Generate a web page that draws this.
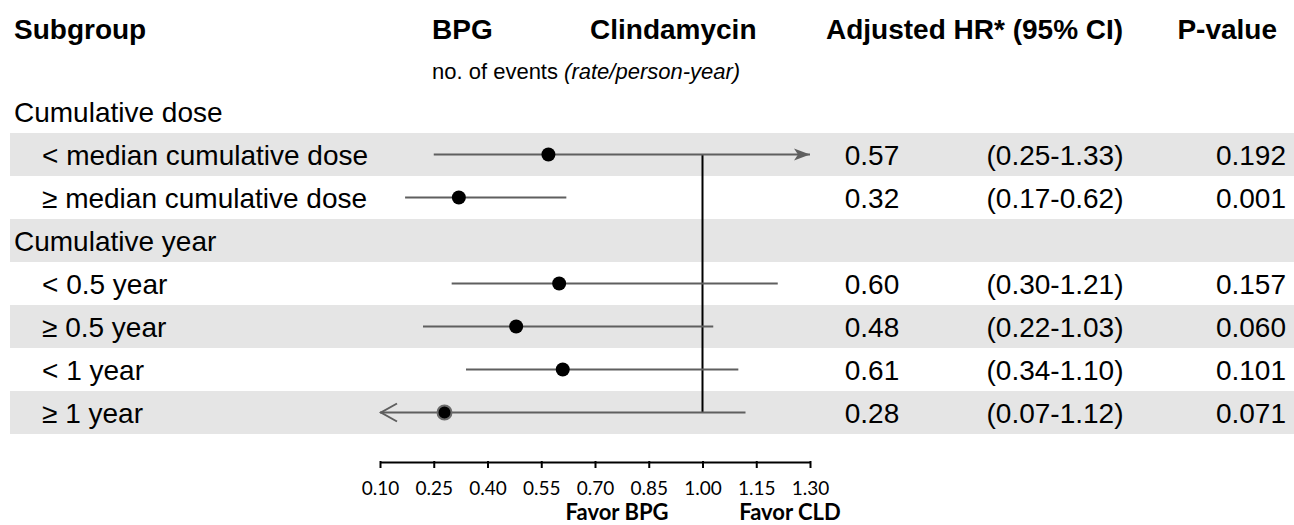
<!DOCTYPE html>
<html>
<head>
<meta charset="utf-8">
<script src="https://cdn.jsdelivr.net/npm/d3@7"></script>
<style>
  body { margin: 0; background: #fff; }
  svg { display: block; }
  .txt { font-family: "Liberation Sans", Arial, sans-serif; fill: #000; }
  .axis text { font-family: Lato, "Open Sans", sans-serif; font-size: 19px; fill: #000; }
</style>
</head>
<body>
<svg id="chart" width="1294" height="525"></svg>
<script>
// rows of the forest table
const labels = ["Cumulative dose", "< median cumulative dose", "≥ median cumulative dose",
  "Cumulative year", "< 0.5 year", "≥ 0.5 year", "< 1 year", "≥ 1 year"];
const isGroup = [true, false, false, true, false, false, false, false];
const hr = [null, 0.57, 0.32, null, 0.60, 0.48, 0.61, 0.28];
const lower = [null, 0.25, 0.17, null, 0.30, 0.22, 0.34, 0.07];
const upper = [null, 1.33, 0.62, null, 1.21, 1.03, 1.10, 1.12];
const pValues = [null, "0.192", "0.001", null, "0.157", "0.060", "0.101", "0.071"];
const headers = ["Subgroup", "BPG", "Clindamycin", "Adjusted HR* (95% CI)", "P-value"];
const tickValues = [0.10, 0.25, 0.40, 0.55, 0.70, 0.85, 1.00, 1.15, 1.30];
const favorLabels = ["Favor BPG", "Favor CLD"];

const d3s = window.d3,
  width = 1294,
  fontSize = "28px",
  lineColor = "#5f5f5f",
  bandColor = "#e5e5e5";

const svg = d3s.select("#chart");

const x = d3s.scaleLinear()
  .domain([0.10, 1.30])
  .range([380, 810]);

const y = d3s.scaleBand()
  .domain(d3s.range(labels.length))
  .range([90, 434])
  .padding(0);

const yc = i => y(i) + y.bandwidth() / 2;

// alternate grey bands
svg.append("g")
  .selectAll("rect")
  .data(d3s.range(labels.length).filter(i => i % 2 === 1))
  .join("rect")
  .attr("x", 10)
  .attr("y", i => y(i))
  .attr("width", width - 10)
  .attr("height", y.bandwidth())
  .attr("fill", bandColor);

// column headers
const headerX = [14, 432, 590, 826, 1277];
svg.append("g")
  .selectAll("text")
  .data(headers)
  .join("text")
  .attr("class", "txt")
  .attr("x", (d, i) => headerX[i])
  .attr("y", 39)
  .attr("text-anchor", (d, i) => i === 4 ? "end" : "start")
  .style("font-size", fontSize)
  .style("font-weight", "bold")
  .text(d => d);

const sub = svg.append("text")
  .attr("class", "txt")
  .attr("x", 432)
  .attr("y", 79)
  .style("font-family", "'Liberation Sans Narrow', 'Arial Narrow', sans-serif")
  .style("font-size", "22px");
sub.append("tspan").text("no. of events ");
sub.append("tspan").style("font-style", "italic").text("(rate/person-year)");

// row labels
svg.append("g")
  .selectAll("text")
  .data(labels)
  .join("text")
  .attr("class", "txt")
  .attr("x", (d, i) => isGroup[i] ? 14 : 42)
  .attr("y", (d, i) => yc(i))
  .attr("dy", "0.36em")
  .style("font-size", fontSize)
  .text(d => d);

const rows = d3s.range(labels.length).filter(i => hr[i] != null);

// reference line at HR = 1
svg.append("line")
  .attr("x1", x(1)).attr("x2", x(1))
  .attr("y1", yc(rows[0])).attr("y2", yc(rows[rows.length - 1]))
  .attr("stroke", "#000")
  .attr("stroke-width", 2);

const [xmin, xmax] = x.domain();

// confidence intervals, arrows where they run off the axis
const ci = svg.append("g");
rows.forEach(i => {
  const lo = Math.max(lower[i], xmin), hi = Math.min(upper[i], xmax);
  ci.append("line")
    .attr("x1", x(lo)).attr("x2", x(hi))
    .attr("y1", yc(i)).attr("y2", yc(i))
    .attr("stroke", lineColor)
    .attr("stroke-width", 2);
  if (upper[i] > xmax) {
    const tx = x(xmax), ty = yc(i);
    ci.append("path")
      .attr("d", `M${tx},${ty}L${tx - 16},${ty - 6}L${tx - 12},${ty}L${tx - 16},${ty + 6}Z`)
      .attr("fill", lineColor);
  }
  if (lower[i] < xmin) {
    const tx = x(xmin), ty = yc(i);
    ci.append("path")
      .attr("d", `M${tx + 17},${ty - 9}L${tx + 1},${ty}L${tx + 17},${ty + 9}`)
      .attr("fill", "none")
      .attr("stroke", lineColor)
      .attr("stroke-width", 2);
  }
});

// point estimates
svg.append("g")
  .selectAll("circle")
  .data(rows)
  .join("circle")
  .attr("cx", i => x(hr[i]))
  .attr("cy", i => yc(i))
  .attr("r", 7)
  .attr("fill", "#000")
  .attr("stroke", i => lower[i] < xmin ? "#6b6b6b" : "none")
  .attr("stroke-width", 2);

// value columns
const fmt = d3s.format(".2f");
const cols = svg.append("g");
rows.forEach(i => {
  cols.append("text").attr("class", "txt")
    .attr("x", 872).attr("y", yc(i)).attr("dy", "0.36em")
    .attr("text-anchor", "middle").style("font-size", fontSize)
    .text(fmt(hr[i]));
  cols.append("text").attr("class", "txt")
    .attr("x", 1055).attr("y", yc(i)).attr("dy", "0.36em")
    .attr("text-anchor", "middle").style("font-size", fontSize)
    .text(`(${fmt(lower[i])}-${fmt(upper[i])})`);
  cols.append("text").attr("class", "txt")
    .attr("x", 1286).attr("y", yc(i)).attr("dy", "0.36em")
    .attr("text-anchor", "end").style("font-size", fontSize)
    .text(pValues[i]);
});

// x axis
const axis = svg.append("g")
  .attr("class", "axis")
  .attr("transform", "translate(0,462)")
  .call(d3s.axisBottom(x)
    .tickValues(tickValues)
    .tickFormat(fmt)
    .tickSize(6)
    .tickSizeOuter(0)
    .tickPadding(14));
axis.select(".domain").attr("stroke", "#000").attr("stroke-width", 2);
axis.selectAll(".tick line").attr("stroke", "#000").attr("stroke-width", 2)
  .attr("y1", -1);

svg.append("g")
  .selectAll("text")
  .data(favorLabels)
  .join("text")
  .attr("x", (d, i) => [617, 790][i])
  .attr("y", 520)
  .attr("text-anchor", "middle")
  .style("font-family", "Lato, 'Open Sans', sans-serif")
  .style("font-weight", "bold")
  .style("font-size", "22px")
  .text(d => d);
</script>
</body>
</html>
